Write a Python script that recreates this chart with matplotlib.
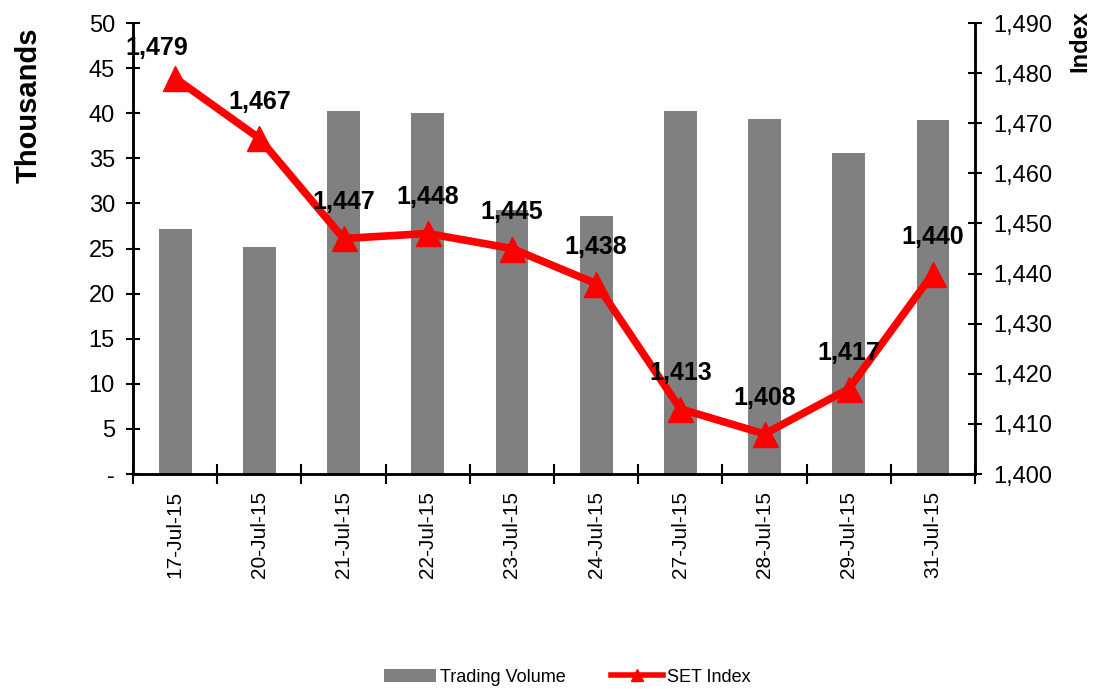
import matplotlib
matplotlib.use('Agg')
import matplotlib.pyplot as plt
from matplotlib.ticker import FuncFormatter, FixedLocator
from matplotlib.lines import Line2D
from matplotlib.patches import Patch

plt.rcParams['font.family'] = ['Liberation Sans', 'DejaVu Sans']

dates = ['17-Jul-15', '20-Jul-15', '21-Jul-15', '22-Jul-15', '23-Jul-15',
         '24-Jul-15', '27-Jul-15', '28-Jul-15', '29-Jul-15', '31-Jul-15']
volume = [27.2, 25.2, 40.2, 40.0, 29.3, 28.6, 40.2, 39.4, 35.6, 39.2]
set_index = [1479, 1467, 1447, 1448, 1445, 1438, 1413, 1408, 1417, 1440]

x = list(range(len(dates)))

fig = plt.figure(figsize=(10.93, 6.89), dpi=100)
ax = fig.add_axes([0.1217, 0.312, 0.7704, 0.6546])
ax2 = ax.twinx()

ax.bar(x, volume, width=0.39, color='#808080', zorder=2)
ax.set_xlim(-0.5, len(dates) - 0.5)
ax.set_ylim(0, 50)
ax.set_yticks(range(0, 51, 5))
ax.yaxis.set_major_formatter(FuncFormatter(lambda v, p: '-' if v == 0 else f'{v:.0f}'))
ax.tick_params(axis='y', direction='inout', length=10, width=1.5, labelsize=17, pad=8)

ax.set_xticks(x)
ax.set_xticklabels(dates, rotation=90, fontsize=15)
ax.tick_params(axis='x', which='major', length=0, pad=12)
ax.xaxis.set_minor_locator(FixedLocator([i - 0.5 for i in range(len(dates) + 1)]))
ax.tick_params(axis='x', which='minor', direction='inout', length=14, width=1.5)

ax2.plot(x, set_index, color='#ff0000', linewidth=5.5, marker='^', markersize=18,
         zorder=3)
for xi, v in zip(x, set_index):
    # first label sits a little left and lower, as in the original
    off = (-13, 22) if xi == 0 else (0, 26)
    ax2.annotate(f'{v:,}', (xi, v), xytext=off, textcoords='offset points',
                 ha='center', va='center', fontsize=18, fontweight='bold')
ax2.set_ylim(1400, 1490)
ax2.set_yticks(range(1400, 1491, 10))
ax2.yaxis.set_major_formatter(FuncFormatter(lambda v, p: f'{v:,.0f}'))
ax2.tick_params(axis='y', direction='inout', length=10, width=1.5, labelsize=17, pad=8)

fig.text(29 / 1093, 1 - 105 / 689, 'Thousands', rotation=90, ha='center', va='center',
         fontsize=21, fontweight='bold')
fig.text(1080 / 1093, 1 - 41 / 689, 'Index', rotation=90, ha='center', va='center',
         fontsize=17, fontweight='bold')

for a in (ax, ax2):
    a.spines['top'].set_visible(False)
    for s in ('left', 'right', 'bottom'):
        a.spines[s].set_linewidth(1.8)

handles = [Patch(facecolor='#808080', label='Trading Volume'),
           Line2D([0], [0], color='#ff0000', linewidth=4, marker='^', markersize=8,
                  label='SET Index')]
fig.legend(handles=handles, loc='center', bbox_to_anchor=(0.519, 0.017), ncol=2,
           frameon=False, fontsize=13, handlelength=2.9, handletextpad=0.2,
           columnspacing=2.5)

fig.savefig('out.png', dpi=100)
